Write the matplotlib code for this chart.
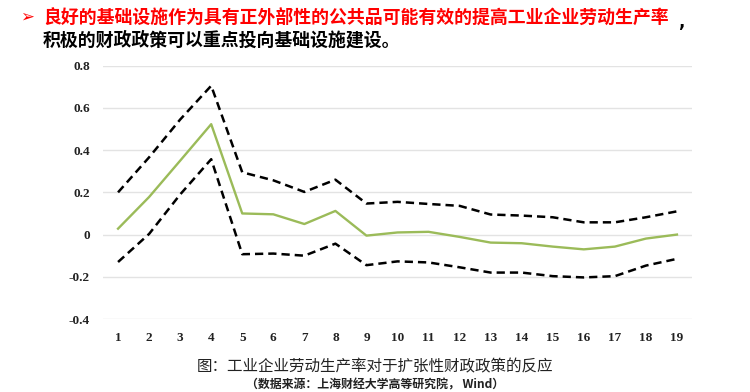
import matplotlib
matplotlib.use("Agg")
import matplotlib.pyplot as plt

periods = list(range(1, 20))
response = [0.028, 0.178, 0.35, 0.523, 0.10, 0.096, 0.05, 0.112, -0.005, 0.01,
            0.013, -0.011, -0.038, -0.041, -0.057, -0.07, -0.057, -0.019, 0.0]
upper = [0.20, 0.366, 0.545, 0.705, 0.295, 0.257, 0.202, 0.26, 0.147, 0.155,
         0.145, 0.136, 0.095, 0.09, 0.082, 0.058, 0.058, 0.082, 0.11]
lower = [-0.13, 0.003, 0.19, 0.357, -0.093, -0.09, -0.10, -0.043, -0.145, -0.127,
         -0.132, -0.155, -0.18, -0.18, -0.197, -0.203, -0.197, -0.147, -0.115]
yticks = [-0.4, -0.2, 0, 0.2, 0.4, 0.6, 0.8]
ytick_labels = ["-0.4", "-0.2", "0", "0.2", "0.4", "0.6", "0.8"]

title1 = "良好的基础设施作为具有正外部性的公共品可能有效的提高工业企业劳动生产率"
title2 = "积极的财政政策可以重点投向基础设施建设。"
caption = "图：工业企业劳动生产率对于扩张性财政政策的反应"
source = "（数据来源：上海财经大学高等研究院， Wind）"

cjk = ["Noto Sans CJK SC", "DejaVu Sans"]

fig = plt.figure(figsize=(7.5, 3.92), dpi=100)
ax = fig.add_axes([0.1367, 0.1862, 0.7866, 0.6462])

ax.plot(periods, upper, color="black", lw=1.8, dashes=(3.3, 2.0))
ax.plot(periods, lower, color="black", lw=1.8, dashes=(3.3, 2.0))
ax.plot(periods, response, color="#9BBB59", lw=1.7)

ax.set_xlim(0.5, 19.5)
ax.set_ylim(-0.4, 0.8)
ax.set_yticks(yticks)
ax.set_yticklabels(ytick_labels)
ax.set_xticks(periods)
ax.set_xticklabels([str(p) for p in periods])
ax.grid(axis="y", color="#e3e3e3", lw=1)
ax.set_axisbelow(True)
for s in ax.spines.values():
    s.set_visible(False)
ax.tick_params(length=0, pad=9)
for lab in ax.get_xticklabels() + ax.get_yticklabels():
    lab.set_fontfamily("Liberation Serif")
    lab.set_fontweight("bold")
    lab.set_fontsize(9.5)
    lab.set_color("#222222")

fig.text(20 / 750, 1 - 17 / 392, "➢", color="red", fontsize=12,
         family=["DejaVu Sans"], va="center", ha="left")
fig.text(43 / 750, 1 - 18 / 392, title1, color="#ff0000", fontsize=12.9,
         fontweight="bold", family=cjk, va="center", ha="left")
fig.text(678 / 750, 1 - 22 / 392, ",", color="black", fontsize=12,
         fontweight="bold", family=["DejaVu Sans"], va="center", ha="left")
fig.text(43 / 750, 1 - 40 / 392, title2, color="black", fontsize=12.9,
         fontweight="bold", family=cjk, va="center", ha="left")
fig.text(197 / 750, 1 - 367 / 392, caption, color="#222222", fontsize=11.2,
         family=cjk, va="center", ha="left")
fig.text(246 / 750, 1 - 385 / 392, source, color="#222222", fontsize=8.6,
         fontweight="bold", family=cjk, va="center", ha="left")

fig.savefig("out.png", dpi=100)
